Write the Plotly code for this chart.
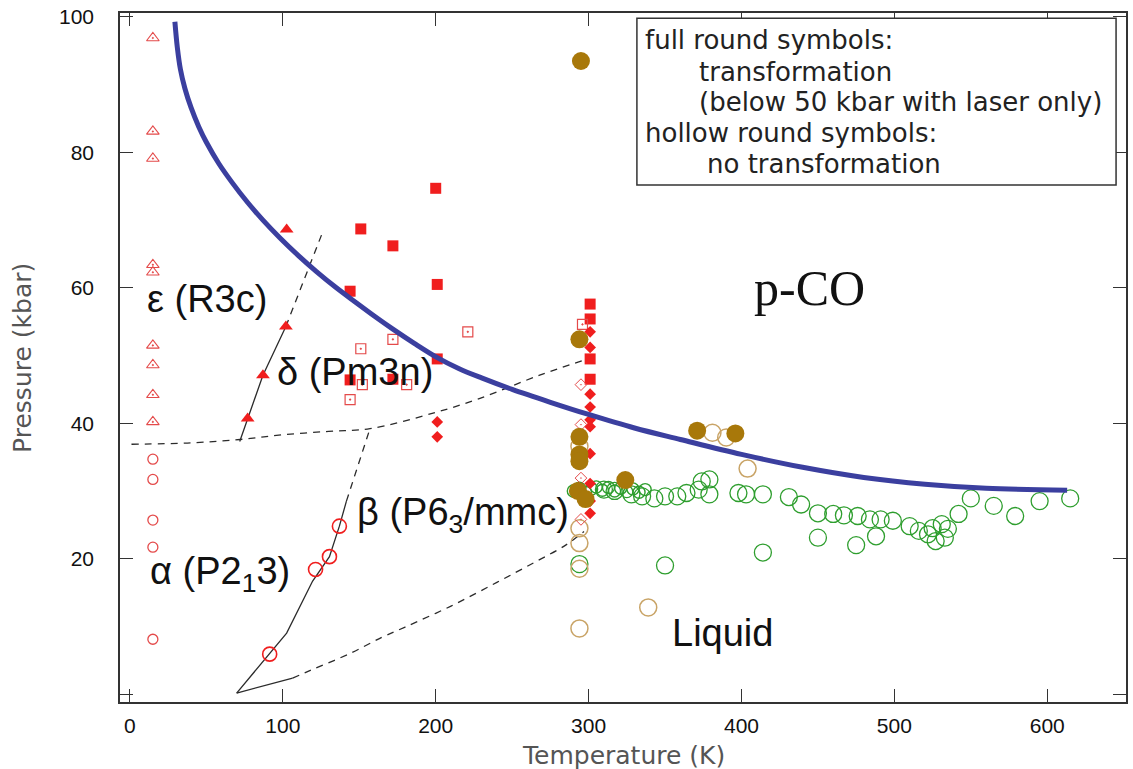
import plotly.graph_objects as go

# ---------------- data (T in K, P in kbar) ----------------
# melting / transformation boundary of p-CO
curve_T = [29.4, 31, 33, 36, 40, 45, 50, 58, 67, 77, 87, 98, 110, 122, 135, 148, 160, 172, 186,
           201, 215, 230, 250, 275, 300, 330, 360, 400, 440, 480, 520, 560, 613]
curve_P = [99.3, 95.5, 92.3, 89.4, 86.6, 83.8, 81.5, 78.4, 75.5, 72.6, 70.0, 67.4, 64.8, 62.4, 60.0,
           57.8, 55.8, 53.9, 51.8, 49.7, 48.1, 46.7, 45.0, 43.1, 41.3, 39.3, 37.6, 35.4, 33.5, 32.0,
           31.0, 30.4, 30.1]

# phase boundaries (thin black)
eps_delta_solid_T = [71.8, 77, 87, 102]
eps_delta_solid_P = [37.3, 40.7, 47.1, 54.3]
eps_delta_dash_T = [102, 125.3]
eps_delta_dash_P = [54.3, 67.8]

alpha_beta_solid_T = [69.8, 91.4, 102.5, 119.5, 130.5, 137, 141.6]
alpha_beta_solid_P = [0.15, 5.9, 9.0, 16.7, 20.3, 24.8, 28.5]
alpha_beta_dash_T = [141.6, 157]
alpha_beta_dash_P = [28.5, 39.2]

beta_low_solid_T = [69.8, 106.4]
beta_low_solid_P = [0.15, 2.35]
beta_low_dash_T = [106.4, 118, 144, 165, 180, 210, 240, 265, 285, 297]
beta_low_dash_P = [2.35, 3.5, 6.0, 8.4, 9.9, 13.0, 16.5, 19.5, 22.0, 24.0]

delta_beta_dash_T = [1, 40, 72, 100, 130, 157, 200, 228, 268, 298]
delta_beta_dash_P = [36.9, 37.1, 37.6, 38.3, 38.8, 39.2, 41.6, 43.6, 47.1, 49.4]

# red symbols
tri_open_T = [15] * 9
tri_open_P = [96.9, 83.1, 79.1, 63.4, 62.3, 51.5, 48.6, 44.2, 40.2]
circ_small_T = [15] * 5
circ_small_P = [34.7, 31.7, 25.7, 21.7, 8.1]
circ_big_T = [91.4, 121.4, 130.5, 137]
circ_big_P = [5.9, 18.4, 20.3, 24.8]
tri_full_T = [102.5, 102, 87, 77]
tri_full_P = [68.6, 54.3, 47.1, 40.7]
sq_full_T = [151, 172, 200, 201, 144, 201, 144, 172, 301, 301, 301, 301]
sq_full_P = [68.7, 66.2, 74.7, 60.5, 59.5, 49.5, 46.4, 46.5, 57.6, 55.4, 49.5, 46.5]
sq_open_T = [151, 172, 221, 152, 181, 144, 296]
sq_open_P = [51.0, 52.4, 53.5, 45.7, 45.7, 43.5, 54.6]
dia_full_T = [201, 201, 301, 301, 301, 301, 301, 301, 301, 301, 301, 301]
dia_full_P = [40.2, 38.0, 53.5, 51.2, 44.3, 42.4, 40.5, 39.5, 35.5, 31.1, 28.5, 26.7]
dia_open_T = [295, 295, 295, 295]
dia_open_P = [45.7, 39.8, 31.9, 25.8]

# round symbols: full = transformation, hollow = no transformation
gold_full_T = [295, 294, 294, 294, 294, 293, 298, 324, 371, 396]
gold_full_P = [93.5, 52.4, 38.0, 35.4, 34.4, 30.0, 28.8, 31.6, 38.9, 38.5]
gold_open_T = [294, 381, 390, 404, 294, 294, 294, 294, 339]
gold_open_P = [36.6, 38.6, 37.9, 33.3, 24.5, 22.3, 18.5, 9.7, 12.8]

green_band_T = [290, 294, 298, 302, 305, 309, 313, 317, 321, 325, 329, 333, 337]
green_band_P = [30.0, 30.4, 29.8, 30.3, 30.6, 30.1, 30.5, 30.0, 30.4, 29.9, 30.3, 29.8, 30.2]
green_T = [310, 317, 328, 335, 343, 350, 358, 364, 372, 374, 379, 379, 398, 403, 414, 431,
           439, 450, 460, 467, 476, 484, 491, 499, 510, 516, 522, 525, 527, 531, 535, 533,
           542, 550, 565, 579, 595, 615, 294, 350, 414, 450, 475, 488]
green_P = [30.2, 30.0, 29.5, 29.2, 28.9, 29.2, 29.2, 29.7, 30.2, 31.4, 31.7, 29.5, 29.7, 29.5, 29.5, 29.1,
           28.0, 26.7, 26.6, 26.4, 26.3, 25.8, 25.8, 25.6, 24.8, 24.1, 23.6, 24.5, 22.6, 25.1, 24.4, 23.1,
           26.6, 28.9, 27.8, 26.3, 28.5, 28.9, 19.2, 19.0, 20.9, 23.1, 22.0, 23.3]

x_ticks = [0, 100, 200, 300, 400, 500, 600]
y_ticks = [0, 20, 40, 60, 80, 100]
y_ticktext = ["", "20", "40", "60", "80", "100"]

legend_lines = ["full round symbols:", "transformation", "(below 50 kbar with laser only)",
                "hollow round symbols:", "no transformation"]

# ---------------- styles ----------------
RED = "#f01e1e"
RED_LIGHT = "#e44a4a"
GOLD = "#a8780a"
TAN = "#c9a467"
GREEN = "#2e9e2e"
BLUE = "#3b3f9f"
INK = "#2b2b2b"

fig = go.Figure()


def line(xs, ys, dash=None, width=1.3, color=INK, shape="linear"):
    fig.add_trace(go.Scatter(x=xs, y=ys, mode="lines", hoverinfo="skip",
                             line=dict(color=color, width=width, dash=dash, shape=shape)))


def pts(xs, ys, symbol, size, color, width=1.2):
    fig.add_trace(go.Scatter(x=xs, y=ys, mode="markers", hoverinfo="skip",
                             marker=dict(symbol=symbol, size=size, color=color,
                                         line=dict(color=color, width=width))))


line(delta_beta_dash_T, delta_beta_dash_P, dash="7px,6px", shape="spline")
line(eps_delta_solid_T, eps_delta_solid_P)
line(eps_delta_dash_T, eps_delta_dash_P, dash="7px,6px")
line(alpha_beta_solid_T, alpha_beta_solid_P)
line(alpha_beta_dash_T, alpha_beta_dash_P, dash="7px,6px")
line(beta_low_solid_T, beta_low_solid_P)
line(beta_low_dash_T, beta_low_dash_P, dash="7px,6px", shape="spline")

pts(green_band_T, green_band_P, "circle-open", 12, GREEN, 1.4)
pts(green_T, green_P, "circle-open", 17, GREEN, 1.3)
pts(gold_open_T, gold_open_P, "circle-open", 17, TAN, 1.5)

pts(tri_open_T, tri_open_P, "triangle-up-open-dot", 11, RED_LIGHT, 1.1)
pts(circ_small_T, circ_small_P, "circle-open", 10, RED_LIGHT, 1.3)
pts(circ_big_T, circ_big_P, "circle-open", 14, RED, 1.6)
pts(tri_full_T, tri_full_P, "triangle-up", 12, RED, 0)
pts(sq_full_T, sq_full_P, "square", 11, RED, 0)
pts(sq_open_T, sq_open_P, "square-open-dot", 10, RED_LIGHT, 1.2)
pts(dia_full_T, dia_full_P, "diamond", 9, RED, 0)
pts(dia_open_T, dia_open_P, "diamond-open-dot", 9, RED_LIGHT, 1.0)

line(curve_T, curve_P, width=5, color=BLUE, shape="spline")
pts(gold_full_T, gold_full_P, "circle", 18, GOLD, 0)

# ---------------- phase labels ----------------
SANS = "Liberation Sans, Arial, sans-serif"
labels = [
    ("ε (R3c)", 10, 58.4),
    ("δ (Pm3n)", 95, 47.6),
    ("β (P6<sub>3</sub>/mmc)", 147, 26.5),
    ("α (P2<sub>1</sub>3)", 12, 17.7),
    ("Liquid", 353, 9.0),
]
for text, x, y in labels:
    fig.add_annotation(x=x, y=y, text=text, showarrow=False, xanchor="left", yanchor="middle",
                       font=dict(family=SANS, size=38, color="#111"))

fig.add_annotation(x=407, y=60.0, text="p-CO", showarrow=False, xanchor="left", yanchor="middle",
                   font=dict(family="Liberation Serif, Times New Roman, serif", size=50, color="#111"))

# ---------------- note box ----------------
fig.add_shape(type="rect", x0=331.6, x1=645, y0=75.2, y1=99.8, xref="x", yref="y",
              line=dict(color="#333", width=1.5), fillcolor="white", layer="above")
box_x = [335.5, 371, 371, 335.5, 376]
box_y = [96.6, 91.9, 87.5, 82.9, 78.3]
for text, x, y in zip(legend_lines, box_x, box_y):
    fig.add_annotation(x=x, y=y, text=text, showarrow=False, xanchor="left", yanchor="middle",
                       font=dict(family="DejaVu Sans, sans-serif", size=26, color="#222"))

# ---------------- axis titles ----------------
TITLE_FONT = dict(family="DejaVu Sans, sans-serif", size=25, color="#555")
fig.add_annotation(xref="paper", yref="paper", x=-0.097, y=0.5, text="Pressure (kbar)",
                   textangle=-90, showarrow=False, xanchor="center", yanchor="middle", font=TITLE_FONT)
fig.add_annotation(xref="paper", yref="paper", x=0.5, y=-0.077, text="Temperature (K)",
                   showarrow=False, xanchor="center", yanchor="middle", font=TITLE_FONT)

TICK_FONT = dict(family="Liberation Sans Narrow, Arial Narrow, Liberation Sans, sans-serif", size=21, color="#111")
fig.update_layout(
    width=1133, height=769,
    margin=dict(l=120, r=5, t=9, b=67),
    paper_bgcolor="white", plot_bgcolor="white",
    showlegend=False,
    xaxis=dict(range=[-6.5, 651.5], tickvals=x_ticks, ticks="inside", ticklen=13,
               tickcolor="#333", showline=True, linecolor="#333", linewidth=1.5,
               mirror="allticks", showgrid=False, zeroline=False, tickfont=TICK_FONT,
               ticklabelstandoff=4),
    yaxis=dict(range=[-1.17, 100.59], tickvals=y_ticks, ticktext=y_ticktext, ticks="inside",
               ticklen=13, tickcolor="#333", showline=True, linecolor="#333", linewidth=1.5,
               mirror="allticks", showgrid=False, zeroline=False, tickfont=TICK_FONT,
               ticklabelstandoff=20),
)

fig.write_html("out.html")
